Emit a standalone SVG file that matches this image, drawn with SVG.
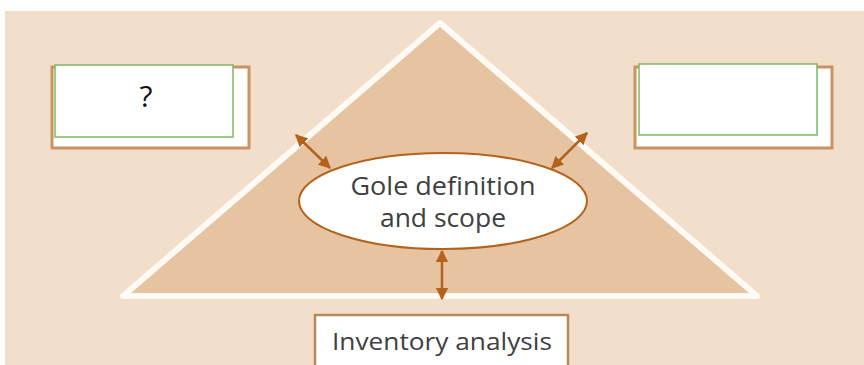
<svg xmlns="http://www.w3.org/2000/svg" width="864" height="365" viewBox="0 0 864 365">
<defs>
<style>
.back{fill:#ffffff;stroke:#c89462;stroke-width:3}
.front{fill:#ffffff;stroke:#7dbb5e;stroke-width:1.5}
.lbl{font-family:"Open Sans","Noto Sans",sans-serif;fill:#404040;text-anchor:middle;font-weight:500}
.arr{stroke:#b5621a;stroke-width:2.5;fill:none;marker-start:url(#ah);marker-end:url(#ah)}
</style>
<marker id="ah" viewBox="0 0 10 10" refX="9" refY="5" markerWidth="5" markerHeight="5" orient="auto-start-reverse" markerUnits="strokeWidth">
<path d="M0,0 L10,5 L0,10 Z" fill="#b5621a"/>
</marker>
</defs>
<rect x="0" y="0" width="864" height="365" fill="#ffffff"/>
<rect x="5" y="11" width="859" height="354" fill="#f1dfcc"/>
<g id="triangle">
<polygon points="440,23 123,296 757,296" fill="#e6c4a2" stroke="#fffaf4" stroke-width="6" stroke-linejoin="round"/>
</g>
<g id="box-left">
<rect class="back" x="52" y="67" width="197" height="81"/>
<rect class="front" x="55" y="65" width="178" height="72"/>
<text x="146" y="107" font-size="30" font-family="Open Sans, sans-serif" text-anchor="middle" fill="#111">?</text>
</g>
<g id="box-right">
<rect class="back" x="635" y="67" width="197" height="81"/>
<rect class="front" x="639" y="64" width="178" height="71"/>
</g>
<g id="connectors">
<line class="arr" x1="296" y1="135" x2="330" y2="168"/>
<line class="arr" x1="587" y1="133" x2="552" y2="168"/>
<line class="arr" x1="442" y1="251" x2="442" y2="299"/>
</g>
<g id="goal">
<ellipse cx="443" cy="201" rx="144" ry="48" fill="#ffffff" stroke="#b5621a" stroke-width="2"/>
<text class="lbl" x="443" y="195" font-size="25" textLength="185" lengthAdjust="spacingAndGlyphs">Gole definition</text>
<text class="lbl" x="443" y="227" font-size="25" textLength="126" lengthAdjust="spacingAndGlyphs">and scope</text>
</g>
<g id="inventory">
<rect x="315" y="315" width="253" height="52" fill="#ffffff" stroke="#b88858" stroke-width="2.5"/>
<text class="lbl" x="442" y="350" font-size="23" textLength="220" lengthAdjust="spacingAndGlyphs">Inventory analysis</text>
</g>
</svg>
